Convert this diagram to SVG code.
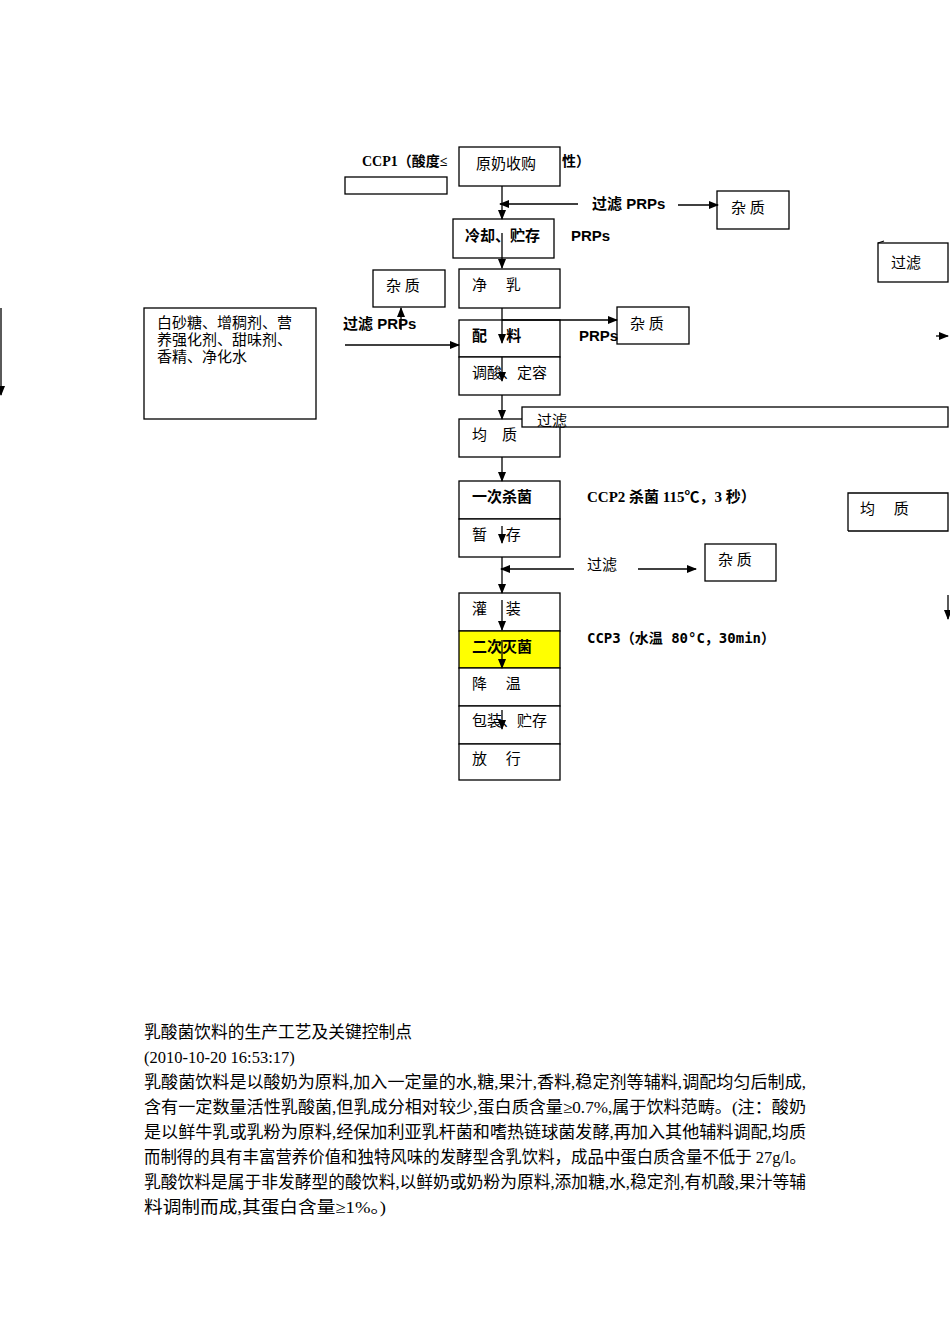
<svg xmlns="http://www.w3.org/2000/svg" width="950" height="1344" viewBox="0 0 950 1344">
<style>
.b{fill:#fff;stroke:#000;stroke-width:1.3}
.t{font-family:"Liberation Serif","Noto Sans CJK SC",serif;font-size:15px;fill:#000}
.bd{font-family:"Liberation Sans","Noto Sans CJK SC",sans-serif;font-size:15px;font-weight:bold;fill:#000}
.l{stroke:#000;stroke-width:1.3;fill:none}
.p{font-family:"Liberation Serif","Noto Sans CJK SC",serif;font-size:16.5px;fill:#000}
</style>
<defs><marker id="a" markerWidth="10" markerHeight="10" refX="9" refY="5" orient="auto" markerUnits="userSpaceOnUse"><path d="M0,1 L10,5 L0,9z" fill="#000"/></marker></defs>
<rect width="950" height="1344" fill="#fff"/>
<text class="bd" x="362" y="166" style="font-family:'Liberation Serif','Noto Sans CJK SC',serif;font-size:14px">CCP1（酸度≤</text>
<text class="bd" x="562" y="166" style="font-family:'Liberation Serif','Noto Sans CJK SC',serif;font-size:14px">性）</text>
<g id="n1"><rect class="b" x="459" y="147" width="101" height="39"/><text class="t" x="476" y="169">原奶收购</text></g>
<rect class="b" x="345" y="177" width="102" height="17"/>
<g id="n2"><rect class="b" x="453" y="219" width="101" height="39"/><text class="bd" x="465" y="241">冷却、贮存</text></g>
<text class="bd" x="571" y="241" font-size="14">PRPs</text>
<text class="bd" x="592" y="209">过滤 PRPs</text>
<g id="n3"><rect class="b" x="717" y="191" width="72" height="38"/><text class="t" x="731" y="213">杂 质</text></g>
<g id="n4"><rect class="b" x="459" y="269" width="101" height="39"/><text class="t" x="472" y="290">净　 乳</text></g>
<g id="n5"><rect class="b" x="373" y="270" width="72" height="37"/><text class="t" x="386" y="291">杂 质</text></g>
<g id="n6"><rect class="b" x="459" y="320" width="101" height="37"/><text class="bd" x="472" y="341">配　 料</text></g>
<g id="n7"><rect class="b" x="459" y="357" width="101" height="38"/><text class="t" x="472" y="378">调酸、定容</text></g>
<g id="n8"><rect class="b" x="617" y="307" width="72" height="37"/><text class="t" x="630" y="329">杂 质</text></g>
<text class="bd" x="579" y="341" font-size="14">PRPs</text>
<text class="bd" x="343" y="329">过滤 PRPs</text>
<g id="n9"><rect class="b" x="144" y="308" width="172" height="111"/><text class="t" x="157" y="328">白砂糖、增稠剂、营</text><text class="t" x="157" y="345">养强化剂、甜味剂、</text><text class="t" x="157" y="362">香精、净化水</text></g>
<g id="n10"><rect class="b" x="459" y="419" width="101" height="38"/><text class="t" x="472" y="440">均　质</text></g>
<g id="n11"><rect class="b" x="459" y="481" width="101" height="38"/><text class="bd" x="472" y="502">一次杀菌</text></g>
<g id="n12"><rect class="b" x="459" y="519" width="101" height="38"/><text class="t" x="472" y="540">暂　 存</text></g>
<text class="bd" x="587" y="502" style="font-family:'Liberation Serif','Noto Sans CJK SC',serif">CCP2 杀菌 115℃，3 秒）</text>
<text class="t" x="587" y="570">过滤</text>
<g id="n13"><rect class="b" x="705" y="544" width="71" height="37"/><text class="t" x="718" y="565">杂 质</text></g>
<g id="n14"><rect class="b" x="459" y="593" width="101" height="38"/><text class="t" x="472" y="614">灌　 装</text></g>
<g id="n15"><rect class="b" x="459" y="631" width="101" height="37" style="fill:#ffff00"/><text class="bd" x="472" y="652">二次灭菌</text></g>
<g id="n16"><rect class="b" x="459" y="668" width="101" height="38"/><text class="t" x="472" y="689">降　 温</text></g>
<g id="n17"><rect class="b" x="459" y="706" width="101" height="38"/><text class="t" x="472" y="726">包装、贮存</text></g>
<g id="n18"><rect class="b" x="459" y="744" width="101" height="36"/><text class="t" x="472" y="764">放　 行</text></g>
<text class="bd" x="587" y="643" style="font-family:'DejaVu Sans Mono','Noto Sans CJK SC',monospace;font-size:14px">CCP3（水温 80°C，30min）</text>
<g id="n19"><rect class="b" x="878" y="243" width="70" height="39"/><text class="t" x="891" y="268" font-size="17">过滤</text></g>
<g id="n20"><path class="l" d="M848,531 V493 H948 V531 H848"/><text class="t" x="860" y="514">均　 质</text></g>
<g id="conn">
<path class="l" d="M502,186 V219" marker-end="url(#a)"/>
<path class="l" d="M578,204 H500" marker-end="url(#a)"/>
<path class="l" d="M678,205 H718" marker-end="url(#a)"/>
<path class="l" d="M502,233 V268" marker-end="url(#a)"/>
<path class="l" d="M502,308 V343" marker-end="url(#a)"/>
<path class="l" d="M502,320 H617" marker-end="url(#a)"/>
<path class="l" d="M401,330 V308" marker-end="url(#a)"/>
<path class="l" d="M345,345 H459" marker-end="url(#a)"/>
<path class="l" d="M502,357 V381" marker-end="url(#a)"/>
<path class="l" d="M502,395 V419" marker-end="url(#a)"/>
<path class="l" d="M502,457 V481" marker-end="url(#a)"/>
<path class="l" d="M502,526 V543" marker-end="url(#a)"/>
<path class="l" d="M502,557 V593" marker-end="url(#a)"/>
<path class="l" d="M574,569 H501" marker-end="url(#a)"/>
<path class="l" d="M638,569 H696" marker-end="url(#a)"/>
<path class="l" d="M502,600 V630" marker-end="url(#a)"/>
<path class="l" d="M502,640 V668" marker-end="url(#a)"/>
<path class="l" d="M502,710 V729" marker-end="url(#a)"/>
<path class="l" d="M936,336 H948" marker-end="url(#a)"/>
<path class="l" d="M948,595 V619" marker-end="url(#a)"/>
<path class="l" d="M1,308 V395" marker-end="url(#a)"/>
<path class="l" d="M878,243 L884,241"/>
</g>
<rect class="b" x="522" y="407" width="426" height="20"/>
<text class="t" x="537" y="426" font-size="11">过滤</text>
<text class="p" x="144" y="1038" textLength="268" lengthAdjust="spacingAndGlyphs">乳酸菌饮料的生产工艺及关键控制点</text>
<text class="p" x="144" y="1063">(2010-10-20 16:53:17)</text>
<text class="p" x="144" y="1088" textLength="662" lengthAdjust="spacingAndGlyphs">乳酸菌饮料是以酸奶为原料,加入一定量的水,糖,果汁,香料,稳定剂等辅料,调配均匀后制成,</text>
<text class="p" x="144" y="1113" textLength="662" lengthAdjust="spacingAndGlyphs">含有一定数量活性乳酸菌,但乳成分相对较少,蛋白质含量≥0.7%,属于饮料范畴。(注：酸奶</text>
<text class="p" x="144" y="1138" textLength="662" lengthAdjust="spacingAndGlyphs">是以鲜牛乳或乳粉为原料,经保加利亚乳杆菌和嗜热链球菌发酵,再加入其他辅料调配,均质</text>
<text class="p" x="144" y="1163" textLength="662" lengthAdjust="spacingAndGlyphs">而制得的具有丰富营养价值和独特风味的发酵型含乳饮料，成品中蛋白质含量不低于 27g/l。</text>
<text class="p" x="144" y="1188" textLength="662" lengthAdjust="spacingAndGlyphs">乳酸饮料是属于非发酵型的酸饮料,以鲜奶或奶粉为原料,添加糖,水,稳定剂,有机酸,果汁等辅</text>
<text class="p" x="144" y="1213" textLength="242" lengthAdjust="spacingAndGlyphs">料调制而成,其蛋白含量≥1%。)</text>
</svg>
